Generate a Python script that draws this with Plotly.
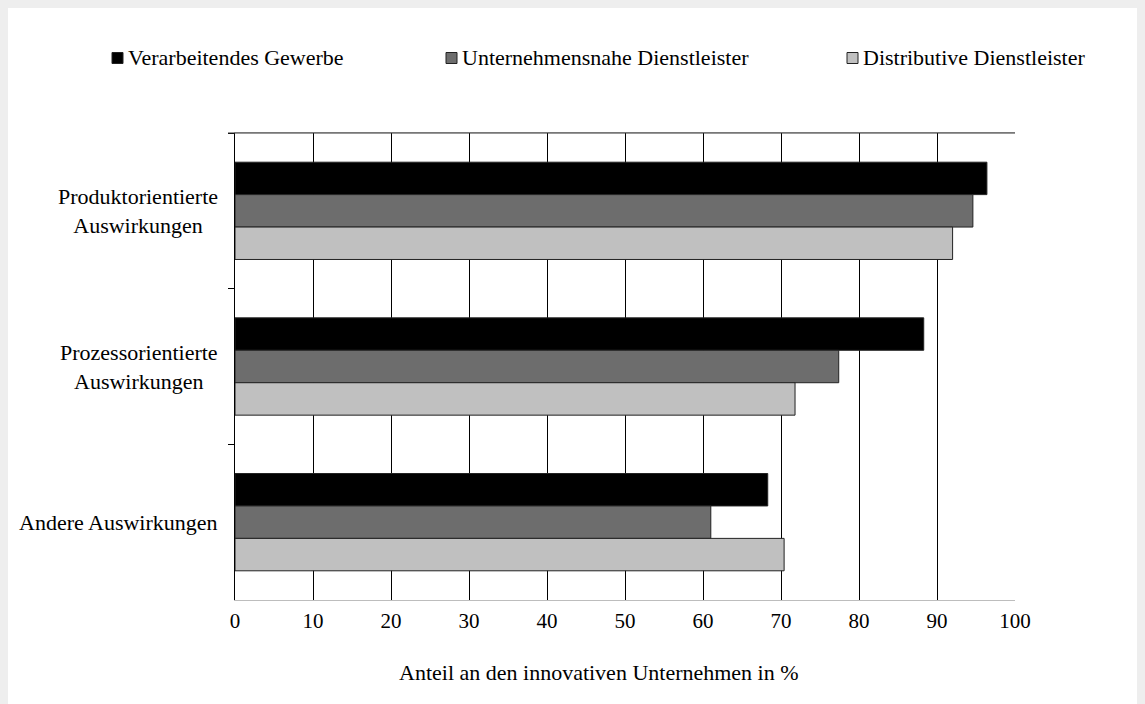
import plotly.graph_objects as go

categories = ["Produktorientierte<br>Auswirkungen", "Prozessorientierte<br>Auswirkungen", "Andere Auswirkungen"]
series_names = ["Verarbeitendes Gewerbe", "Unternehmensnahe Dienstleister", "Distributive Dienstleister"]
verarbeitendes = [96.4, 88.3, 68.3]
unternehmensnahe = [94.6, 77.4, 61.0]
distributive = [92.0, 71.8, 70.4]
x_ticks = [0, 10, 20, 30, 40, 50, 60, 70, 80, 90, 100]
x_title = "Anteil an den innovativen Unternehmen in %"

colors = ["#000000", "#6d6d6d", "#c0c0c0"]
FONT = "Liberation Serif, Times New Roman, serif"

# page layout (page pixels; figure is placed at page offset 8,8)
OX, OY = 8, 8
W, H = 1133, 696
L, R, T, B = 235, 1015, 133, 600
pw, ph = R - L, B - T

def px(x):
    return (x - L) / pw

def py(y):
    return (B - y) / ph

fig = go.Figure()
for name, vals, c in zip(series_names, [verarbeitendes, unternehmensnahe, distributive], colors):
    fig.add_trace(go.Bar(
        y=categories, x=vals, name=name, orientation="h",
        marker=dict(color=c, line=dict(color="#222222", width=1)),
        showlegend=False,
    ))

fig.update_layout(
    width=W, height=H,
    margin=dict(l=L - OX, r=(OX + W) - R, t=T - OY, b=(OY + H) - B, pad=0),
    paper_bgcolor="#ffffff",
    plot_bgcolor="#ffffff",
    barmode="group",
    bargap=0.375,
    bargroupgap=0,
    font=dict(family=FONT, size=22, color="#000000"),
    xaxis=dict(
        range=[0, 100], tickvals=x_ticks, ticks="", showgrid=True,
        gridcolor="#000000", gridwidth=1, zeroline=False,
        showline=True, linecolor="#bdbdbd", linewidth=1, mirror=True,
        tickfont=dict(family=FONT, size=21), ticklabelstandoff=2,
    ),
    yaxis=dict(
        autorange="reversed", showticklabels=False, ticks="outside",
        tickson="boundaries", ticklen=6, tickcolor="#000000",
        showline=True, linecolor="#000000", linewidth=1, showgrid=False,
    ),
)

shapes = [
    dict(type="line", xref="paper", yref="paper",
         x0=px(228), x1=1, y0=1, y1=1,
         line=dict(color="#303030", width=1)),
]

# legend built from series names and colours
legend_sq_x = [112, 446, 847]
legend_y = 58
sq = 11
for name, c, x0 in zip(series_names, colors, legend_sq_x):
    shapes.append(dict(type="rect", xref="paper", yref="paper",
                       x0=px(x0), x1=px(x0 + sq), y0=py(legend_y + sq / 2), y1=py(legend_y - sq / 2),
                       fillcolor=c, line=dict(color="#222222", width=1)))
    fig.add_annotation(x=px(x0 + sq + 3), xref="paper", y=py(legend_y), yref="paper",
                       text=name, xanchor="left", yanchor="middle", showarrow=False,
                       font=dict(family=FONT, size=22))

fig.update_layout(shapes=shapes)

for cat in categories:
    fig.add_annotation(
        x=px(220), xref="paper", y=cat, yref="y", text=cat,
        xanchor="right", yanchor="middle", align="center", showarrow=False,
        font=dict(family=FONT, size=22),
    )

fig.add_annotation(
    x=px(599), xref="paper", y=py(672), yref="paper", text=x_title,
    xanchor="center", yanchor="middle", showarrow=False,
    font=dict(family=FONT, size=22),
)

fig.write_html("out.html", post_script="document.body.style.backgroundColor = '#eeeeee';")
